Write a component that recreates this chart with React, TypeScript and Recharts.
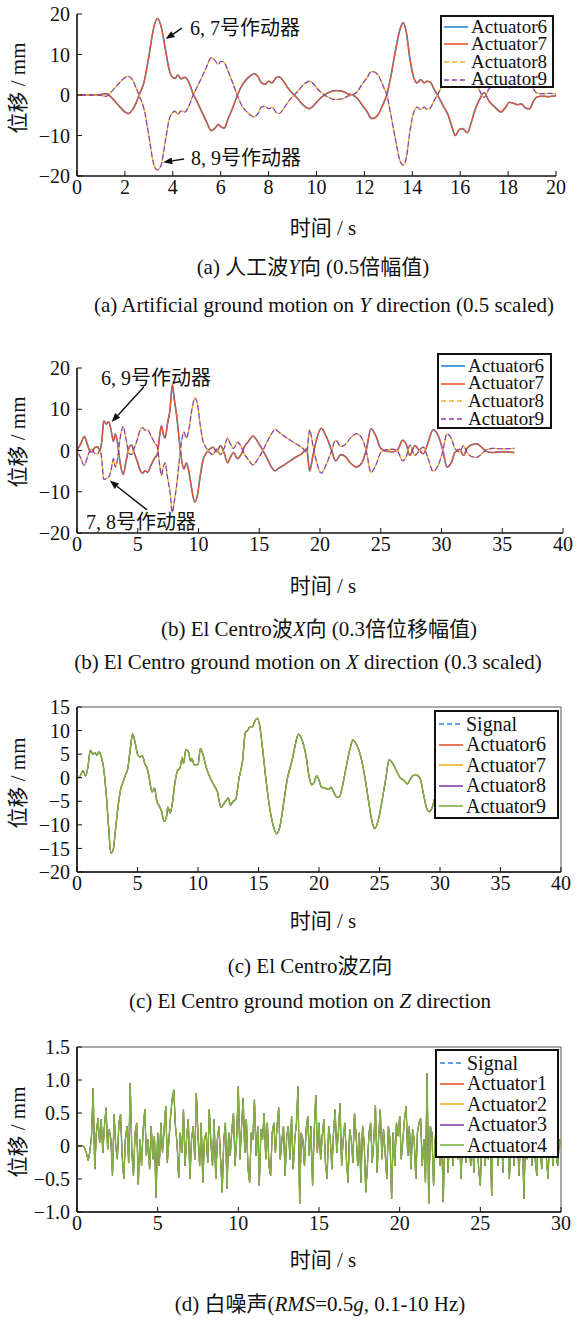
import React from 'react'
import { LineChart, Line, XAxis, YAxis, Legend, ReferenceLine, ReferenceArea } from 'recharts'

const FONT = "'Liberation Serif', 'Noto Sans CJK SC', serif"
const BLUE = '#2f86d6'
const RED = '#e4572e'
const ORANGE = '#eeb02a'
const PURPLE = '#8440b0'
const GREEN = '#7cb342'

// (a) artificial wave, Y direction
const aTime = [0, 0.5, 1.0, 1.2, 1.5, 1.8, 2.0, 2.15, 2.3, 2.45,
  2.6, 2.8, 3.0, 3.2, 3.35, 3.5, 3.7, 3.85, 4.0, 4.1,
  4.2, 4.35, 4.5, 4.65, 4.85, 5.0, 5.2, 5.4, 5.6, 5.75,
  5.9, 6.0, 6.15, 6.3, 6.5, 6.7, 6.9, 7.1, 7.25, 7.4,
  7.55, 7.7, 7.85, 8.0, 8.15, 8.3, 8.45, 8.6, 8.8, 9.0,
  9.2, 9.4, 9.55, 9.7, 9.85, 10.0, 10.2, 10.5, 10.8, 11.1,
  11.3, 11.5, 11.7, 11.9, 12.1, 12.3, 12.45, 12.6, 12.8, 12.95,
  13.1, 13.3, 13.5, 13.62, 13.75, 13.9, 14.05, 14.2, 14.35, 14.5,
  14.6, 14.75, 14.9, 15.1, 15.3, 15.5, 15.65, 15.8, 15.95, 16.1,
  16.3, 16.45, 16.6, 16.8, 17.0, 17.2, 17.45, 17.7, 17.9, 18.05,
  18.2, 18.4, 18.55, 18.75, 18.9, 19.05, 19.2, 19.4, 19.7, 20.0]
// actuators 6 & 7
const aUpper = [0, 0, 0.1, 0.35, -1.0, -3.0, -4.2, -4.6, -3.8, -2.2,
  0.1, 3.2, 9.5, 16.5, 18.9, 17.2, 11, 6.2, 4.3, 4.1,
  4.9, 4.0, 4.4, 3.4, 0.3, -1.5, -4.0, -6.5, -8.8, -8.3,
  -7.3, -7.8, -8.2, -6.0, -3.2, 0, 2.5, 4.0, 4.8, 5.3,
  4.6, 3.0, 2.6, 3.4, 3.0, 4.2, 4.5, 3.6, 1.8, 0.4,
  -0.8, -2.2, -3.0, -3.4, -2.8, -1.8, -0.6, 0.6, 1.1, 0.9,
  0.3, 0, -0.8, -2.4, -4.0, -5.8, -5.6, -4.6, -2.0, 0.3,
  4.5, 11, 16.5, 17.8, 15.5, 9.0, 4.5, 3.0, 3.8, 3.0,
  3.4, 3.2, 1.5, -0.5, -2.8, -5.0, -7.8, -10.0, -8.6, -8.3,
  -9.3, -7.0, -4.0, -1.2, 0.6, -1.5, -3.0, -4.2, -3.0, -1.8,
  -2.0, -2.4, -2.2, -3.3, -3.4, -1.6, -0.5, -0.3, -0.4, -0.2]
// actuators 8 & 9
const aLower = [0, 0, -0.1, -0.35, 1.2, 3.2, 4.3, 4.6, 3.9, 2.0,
  -0.2, -3.5, -10, -17, -18.5, -17.5, -11, -6.0, -4.3, -4.0,
  -4.8, -3.9, -4.2, -3.0, 0, 1.8, 4.2, 6.8, 9.2, 8.6,
  7.6, 8.3, 8.0, 6.0, 3.0, -0.2, -2.8, -4.2, -5.0, -5.4,
  -4.6, -3.0, -2.8, -3.4, -3.0, -4.2, -4.6, -3.6, -1.8, -0.4,
  0.8, 2.2, 3.0, 3.4, 2.9, 1.8, 0.6, -0.6, -1.1, -0.9,
  -0.3, 0, 0.8, 2.6, 4.2, 5.8, 5.6, 4.6, 2.0, -0.3,
  -4.8, -11, -16.5, -17.3, -15.5, -9.0, -4.5, -3.0, -3.6, -3.0,
  -3.5, -3.2, -1.5, 0.6, 2.8, 5.0, 7.8, 10, 8.6, 8.3,
  9.3, 7.0, 4.0, 1.2, -0.6, 1.5, 3.0, 4.2, 3.0, 1.8,
  2.0, 2.4, 2.2, 3.3, 3.4, 1.6, 0.5, 0.3, 0.4, 0.2]

// (b) El Centro, X direction
const bTime = [0, 0.3, 0.6, 0.8, 1.0, 1.2, 1.5, 1.7, 1.9, 2.05,
  2.2, 2.4, 2.6, 2.8, 3.0, 3.15, 3.3, 3.55, 3.8, 4.05,
  4.3, 4.5, 4.7, 5.0, 5.2, 5.4, 5.6, 5.8, 6.1, 6.4,
  6.6, 6.8, 6.95, 7.1, 7.25, 7.45, 7.65, 7.85, 8.0, 8.2,
  8.4, 8.6, 8.8, 9.0, 9.2, 9.45, 9.7, 9.9, 10.15, 10.4,
  10.6, 10.9, 11.2, 11.5, 11.8, 12.1, 12.4, 12.6, 12.9, 13.2,
  13.5, 13.8, 14.1, 14.5, 14.9, 15.3, 15.7, 16.0, 16.3, 16.6,
  17.0, 17.4, 17.8, 18.2, 18.6, 18.9, 19.15, 19.4, 19.7, 20.1,
  20.5, 20.9, 21.3, 21.7, 22.1, 22.5, 23.0, 23.4, 23.8, 24.2,
  24.6, 25.0, 25.5, 26.0, 26.4, 26.8, 27.1, 27.4, 27.8, 28.1,
  28.5, 28.9, 29.3, 29.7, 30.1, 30.45, 30.8, 31.1, 31.5, 31.8,
  32.1, 32.5, 32.9, 33.3, 33.7, 34.2, 35.0, 36.0]
// actuators 6 & 7
const bUpper = [0, 1.6, 3.4, 2.0, 0.2, -0.4, 0.8, 0.9, 0.0, 2.5,
  7.2, 6.4, 7.0, 5.0, 2.2, 4.0, 2.5, -3.0, -5.8, -2.5,
  0.8, 1.3, -0.5, -3.0, -4.8, -5.5, -4.9, -5.3, -3.5, -1.8,
  -1.0, 3.5, 6.0, 4.0, 3.0, 6.5, 9.8, 16.0, 12.5, 8.5,
  3.0, -2.0, -4.5, -3.0, -5.0, -9.5, -12.5, -11.0, -6.0, -2.0,
  -0.8, 0.3, 0.8, -0.3, 1.2, -0.5, -3.0, -1.8, -0.5, -2.0,
  -1.0, 1.0, 2.2, 3.5, 2.0, 0.0, -2.2, -4.0, -4.9, -4.3,
  -3.6, -2.8, -2.0, -1.3, -0.5, 0.5, -5.0, -1.5, 2.5, 5.4,
  3.5, 0.5, -2.5, -1.0, -1.5, -3.0, -4.0, -3.2, 0.0, 5.3,
  3.5, 0.5, -0.2, -0.3, 0.2, 2.5, 1.5, -1.2, 1.2, 0.3,
  -0.8, 2.0, 5.0, 3.8, 0.2, -4.0, -3.0, -0.5, 0.3, -1.2,
  0.5, 1.4, 1.6, 0.8, -0.2, -0.5, -0.3, -0.5]
// actuators 8 & 9
const bLower = [0, -1.8, -3.6, -2.2, -0.4, 0.4, -0.8, -0.8, 0.2, -2.5,
  -7.0, -6.8, -6.5, -4.8, -2.0, -4.0, -2.6, 3.0, 5.8, 2.5,
  -0.8, -1.0, 0.5, 3.0, 5.0, 5.5, 5.0, 5.0, 3.5, 1.8,
  1.0, -3.5, -6.0, -4.0, -3.0, -6.5, -10, -15.0, -12.5, -8.5,
  -3.0, 2.0, 4.5, 3.0, 5.0, 9.8, 12.7, 11.5, 6.0, 2.0,
  0.8, -0.5, -1.0, 0.3, -1.0, 0.5, 3.0, 1.8, 0.5, 2.0,
  1.0, -1.0, -2.2, -3.5, -2.0, 0, 2.4, 4.0, 5.1, 4.5,
  3.6, 2.8, 2.0, 1.3, 0.5, -0.5, 5.0, 1.5, -2.5, -5.5,
  -3.5, -0.5, 2.5, 1.0, 1.5, 3.0, 4.1, 3.2, 0, -5.3,
  -3.5, -0.5, 0.2, 0.3, -0.2, -2.5, -1.5, 1.3, -1.2, -0.3,
  0.8, -2.0, -5.0, -3.8, -0.2, 4.0, 3.0, 0.5, -0.3, 1.2,
  -0.5, -1.5, -1.7, -0.8, 0.2, 0.5, 0.4, 0.5]

// (c) El Centro, Z direction (signal and all actuators overlap)
const cTime = [0, 0.2, 0.5, 0.7, 0.9, 1.1, 1.3, 1.5, 1.65, 1.8,
  2.0, 2.2, 2.4, 2.6, 2.8, 3.0, 3.2, 3.4, 3.6, 3.8,
  4.0, 4.2, 4.4, 4.6, 4.8, 5.0, 5.2, 5.4, 5.6, 5.8,
  6.0, 6.2, 6.4, 6.6, 6.8, 7.0, 7.2, 7.4, 7.5, 7.7,
  7.9, 8.1, 8.3, 8.5, 8.7, 8.8, 9.0, 9.2, 9.4, 9.5,
  9.7, 10.0, 10.2, 10.4, 10.7, 11.0, 11.3, 11.6, 11.9, 12.2,
  12.5, 12.7, 12.9, 13.1, 13.4, 13.7, 13.9, 14.1, 14.3, 14.5,
  14.7, 14.9, 15.1, 15.3, 15.6, 15.9, 16.2, 16.5, 16.8, 17.1,
  17.4, 17.6, 17.8, 18.0, 18.3, 18.6, 18.9, 19.2, 19.4, 19.6,
  19.8, 20.0, 20.2, 20.5, 20.8, 21.0, 21.2, 21.5, 21.7, 22.0,
  22.3, 22.6, 22.8, 23.1, 23.4, 23.8, 24.1, 24.4, 24.6, 24.9,
  25.2, 25.5, 25.8, 26.1, 26.4, 26.7, 27.0, 27.3, 27.5, 27.8,
  28.1, 28.4, 28.6, 28.9, 29.1, 29.4, 29.6, 30.0]
const cDisp = [0, 0.1, 1.5, 0.4, 2.2, 5.8, 5.0, 5.3, 4.7, 5.5,
  4.5, 2.0, -3.0, -10.0, -16.0, -15.2, -10.5, -6.0, -2.5, -1.0,
  0.5, 2.0, 6.0, 9.3, 7.5, 5.0, 4.4, 4.7, 3.0, 2.0,
  -0.5, -3.0, -2.2, -5.0, -6.0, -7.2, -9.3, -8.2, -6.2, -7.5,
  -5.0, -1.0, 1.5, 2.0, 4.2, 3.0, 6.0, 5.5, 3.5, 4.0,
  2.7, 2.8, 6.2, 5.0, 2.0, 0.0, -1.5, -3.0, -6.3, -5.3,
  -4.3, -5.8, -5.0, -4.7, 0.0, 4.0, 9.5, 10.0, 10.8, 10.8,
  12.0, 12.6, 11.0, 7.0, 0.0, -6.0, -10.0, -11.9, -10.0, -5.0,
  0.0, 2.0, 4.0, 6.5, 9.2, 8.0, 5.0, 0.0, -1.5, -1.0,
  0.4, -0.5, -2.0, -2.2, -2.5, -2.0, -3.0, -4.2, -4.0, -1.0,
  3.0, 6.5, 8.0, 7.0, 5.0, 0.0, -5.0, -9.5, -10.8, -9.0,
  -5.0, -0.5, 3.8, 3.0, 1.5, 0.0, -0.5, -1.3, -0.5, 0.5,
  0.5, -0.5, -3.0, -6.5, -7.2, -6.0, -4.0, -1.0]

// (d) white noise, sampled every 0.1 s from 0 to 30 s (one row per second)
const dNoise = [
  0, 0, 0, 0, 0, -0.05, -0.12, -0.22, -0.08, 0.15,
  0.87, -0.35, 0.2, 0.42, 0.05, 0.4, -0.1, 0.3, 0.58, -0.05,
  0.25, 0.1, -0.45, 0.48, 0.0, -0.2, 0.35, 0.48, -0.15, -0.5,
  0.1, 0.3, -0.25, 0.95, -0.1, -0.45, 0.2, 0.35, -0.58, 0.1,
  -0.3, 0.25, 0.55, -0.15, 0.1, -0.35, 0.3, -0.2, 0.15, -0.78,
  0.2, -0.3, 0.35, -0.1, 0.25, 0.6, -0.25, 0.1, 0.45, 0.72,
  0.85, 0.3, 0.05, -0.48, 0.2, -0.1, 0.55, -0.3, 0.15, 0.4,
  -0.5, 0.1, 0.3, -0.2, 0.8, 0.15, -0.3, 0.35, -0.55, 0.1,
  0.2, -0.25, 0.55, 0.05, -0.3, 0.4, -0.5, 0.1, 0.3, -0.2,
  -0.7, 0.1, 0.35, -0.65, 0.2, -0.15, 0.25, 0.5, -0.3, 0.15,
  0.9, -0.2, 0.3, 0.72, -0.1, 0.4, -0.35, -0.55, 0.2, 0.1,
  0.7, -0.15, 0.3, -0.6, 0.25, 0.1, 0.5, -0.2, 0.35, -0.3,
  -0.45, 0.2, 0.35, -0.1, 0.3, 0.58, -0.2, 0.1, 0.3, -0.45,
  0.15, 0.3, -0.2, 0.45, -0.35, 0.1, 0.35, 0.9, -0.87, 0.2,
  0.1, -0.3, 0.25, 0.45, -0.15, 0.3, -0.6, 0.2, 0.77, -0.1,
  0.35, -0.2, 0.15, 0.4, -0.25, -0.5, 0.3, 0.1, -0.35, 0.2,
  0.55, -0.1, 0.2, 0.65, -0.3, 0.1, 0.35, -0.2, -0.55, 0.25,
  0.1, -0.25, 0.5, 0.15, -0.3, 0.2, -0.55, 0.3, 0.05, -0.7,
  -0.3, 0.2, 0.35, -0.25, 0.1, 0.62, -0.4, 0.15, 0.55, -0.2,
  0.25, -0.1, -0.5, 0.3, 0.1, -0.8, 0.2, -0.3, 0.35, 0.15,
  0.45, -0.2, 0.1, 0.4, 0.6, -0.15, 0.3, -0.35, 0.25, 0.1,
  -0.5, 0.2, 0.35, 0.42, -0.3, 0.1, -0.55, 1.1, -0.87, 0.3,
  0.2, -0.6, 0.1, 0.35, 0.5, -0.3, 0.2, -0.85, 0.15, 0.3,
  -0.4, 0.25, 0.1, -0.3, 0.55, 0.2, -0.2, 0.3, -0.5, 0.1,
  0.35, -0.25, 0.5, 0.1, -0.3, 0.2, -0.4, 0.25, 0.05, -0.35,
  -0.6, 0.2, 0.35, -0.3, 0.1, -0.2, 0.4, -0.75, 0.25, 0.1,
  0.5, -0.3, 0.15, 0.35, -0.4, 0.2, -0.15, 0.3, -0.5, 0.1,
  0.25, -0.3, 0.4, 0.1, -0.45, 0.2, 0.3, -0.8, 0.15, -0.2,
  0.35, 0.1, -0.3, 0.25, -0.2, -0.45, 0.3, 0.1, -0.35, 0.2,
  0.3, -0.2, -0.5, 0.25, 0.1, -0.3, 0.2, -0.15, -0.3, 0.1,
  0.0]

const aXTicks = [0, 2, 4, 6, 8, 10, 12, 14, 16, 18, 20]
const bXTicks = [0, 5, 10, 15, 20, 25, 30, 35, 40]
const dXTicks = [0, 5, 10, 15, 20, 25, 30]
const abYTicks = [-20, -10, 0, 10, 20]
const cYTicks = [-20, -15, -10, -5, 0, 5, 10, 15]
const dYTicks = [-1, -0.5, 0, 0.5, 1, 1.5]

type Series = { key: string; name: string; color: string; dash?: string; offset?: number; width?: number }

const actuators6to9: Series[] = [
  { key: 'act6', name: 'Actuator6', color: BLUE, width: 1.6 },
  { key: 'act7', name: 'Actuator7', color: RED },
  { key: 'act8', name: 'Actuator8', color: ORANGE, dash: '5 3' },
  { key: 'act9', name: 'Actuator9', color: PURPLE, dash: '5 3', offset: 4 },
]
const cSeries: Series[] = [
  { key: 'signal', name: 'Signal', color: BLUE, dash: '5 3', width: 1.1 },
  { key: 'act6', name: 'Actuator6', color: RED, width: 1.1 },
  { key: 'act7', name: 'Actuator7', color: ORANGE, width: 1.1 },
  { key: 'act8', name: 'Actuator8', color: PURPLE, width: 1.1 },
  { key: 'act9', name: 'Actuator9', color: GREEN, width: 1.5 },
]
const dSeries: Series[] = [
  { key: 'signal', name: 'Signal', color: BLUE, dash: '5 3', width: 1.0 },
  { key: 'act1', name: 'Actuator1', color: RED, width: 1.0 },
  { key: 'act2', name: 'Actuator2', color: ORANGE, width: 1.0 },
  { key: 'act3', name: 'Actuator3', color: PURPLE, width: 1.0 },
  { key: 'act4', name: 'Actuator4', color: GREEN, width: 1.4 },
]

const aRows = aTime.map((t, i) => ({ t, act6: aUpper[i], act7: aUpper[i], act8: aLower[i], act9: aLower[i] }))
const bRows = bTime.map((t, i) => ({ t, act6: bUpper[i], act7: bUpper[i], act8: bLower[i], act9: bLower[i] }))
const cRows = cTime.map((t, i) => ({ t, signal: cDisp[i], act6: cDisp[i], act7: cDisp[i], act8: cDisp[i], act9: cDisp[i] }))
const dRows = dNoise.map((v, i) => ({ t: i / 10, signal: v, act1: v, act2: v, act3: v, act4: v }))

const minus = (s: string) => s.replace('-', '\u2212')
const fmtInt = (v: number) => minus(String(v))
const fmtOne = (v: number) => (v === 0 ? '0' : minus(v.toFixed(1)))

function Arrow(p: any) {
  const { x1, y1, x2, y2 } = p
  if ([x1, y1, x2, y2].some(v => typeof v !== 'number')) return null
  const ang = Math.atan2(y2 - y1, x2 - x1)
  const L = 9, W = 3.5
  const bx = x2 - L * Math.cos(ang), by = y2 - L * Math.sin(ang)
  const pts = `${x2},${y2} ${bx - W * Math.sin(ang)},${by + W * Math.cos(ang)} ${bx + W * Math.sin(ang)},${by - W * Math.cos(ang)}`
  return (
    <g>
      <line x1={x1} y1={y1} x2={bx} y2={by} stroke="#111" strokeWidth={1.4} />
      <polygon points={pts} fill="#111" />
    </g>
  )
}

type LegendCfg = { left: number; top: number; w: number; h: number; rowH: number; padTop: number; padLeft: number; size: number }

function LegendBox({ items, w, h, rowH, padTop, padLeft, size }: LegendCfg & { items: Series[] }) {
  return (
    <div style={{ width: w, height: h, boxSizing: 'border-box', border: '2px solid #111', background: '#fff', paddingTop: padTop, fontFamily: FONT, fontSize: size, color: '#111' }}>
      {items.map(s => (
        <div key={s.key} style={{ display: 'flex', alignItems: 'center', height: rowH, whiteSpace: 'nowrap' }}>
          <svg width={24} height={6} style={{ marginLeft: padLeft, flex: 'none' }}>
            <line x1={0} x2={24} y1={3} y2={3} stroke={s.color} strokeWidth={1.6} strokeDasharray={s.dash} />
          </svg>
          <span style={{ marginLeft: 3, lineHeight: `${rowH - 1}px` }}>{s.name}</span>
        </div>
      ))}
    </div>
  )
}

type PanelProps = {
  top: number
  height: number
  mTop: number
  mRight: number
  rows: any[]
  series: Series[]
  xDomain: [number, number]
  xTicks: number[]
  yDomain: [number, number]
  yTicks: number[]
  fmt: (v: number) => string
  curve: 'monotone' | 'linear'
  box?: boolean
  arrows?: { x: number; y: number }[][]
  legend: LegendCfg
}

function Panel(p: PanelProps) {
  const axisLine = { stroke: '#111', strokeWidth: 1.6 }
  const tick = { fill: '#111', fontSize: 20, fontFamily: FONT }
  return (
    <div style={{ position: 'absolute', left: 0, top: p.top }}>
      <LineChart width={577} height={p.height} data={p.rows} margin={{ top: p.mTop, right: p.mRight, bottom: 0, left: 0 }}>
        <XAxis dataKey="t" type="number" domain={p.xDomain} ticks={p.xTicks} interval={0} allowDataOverflow height={30}
          tickSize={-5} tickMargin={9} axisLine={axisLine} tickLine={{ stroke: '#111' }} tick={tick} />
        <YAxis type="number" domain={p.yDomain} ticks={p.yTicks} interval={0} allowDataOverflow width={77}
          tickSize={-5} tickMargin={12} tickFormatter={p.fmt} axisLine={axisLine} tickLine={{ stroke: '#111' }} tick={tick} />
        {p.box && (
          <ReferenceArea x1={p.xDomain[0]} x2={p.xDomain[1]} y1={p.yDomain[0]} y2={p.yDomain[1]}
            fill="none" fillOpacity={0} stroke="#555" strokeWidth={1} ifOverflow="visible" />
        )}
        {p.series.map(s => (
          <Line key={s.key} dataKey={s.key} name={s.name} type={p.curve} stroke={s.color} strokeWidth={s.width ?? 1.3}
            strokeDasharray={s.dash} strokeDashoffset={s.offset} dot={false} activeDot={false} isAnimationActive={false} />
        ))}
        {(p.arrows || []).map((seg, i) => (
          <ReferenceLine key={i} segment={seg} shape={Arrow} ifOverflow="visible" />
        ))}
        <Legend layout="vertical" align="center" verticalAlign="middle"
          wrapperStyle={{ left: p.legend.left, top: p.legend.top, width: p.legend.w, height: p.legend.h }}
          content={() => <LegendBox items={p.series} {...p.legend} />} />
      </LineChart>
    </div>
  )
}

function Txt({ x, y, size = 21, anchor = 'center', children }: { x: number; y: number; size?: number; anchor?: 'center' | 'left'; children: React.ReactNode }) {
  return (
    <div style={{
      position: 'absolute', left: x, top: y, whiteSpace: 'nowrap', fontSize: size, lineHeight: 1, color: '#111',
      transform: anchor === 'center' ? 'translate(-50%, -50%)' : 'translate(0, -50%)',
    }}>{children}</div>
  )
}

function YLabel({ y }: { y: number }) {
  return (
    <div style={{ position: 'absolute', left: 18, top: y, whiteSpace: 'nowrap', fontSize: 21, lineHeight: 1, color: '#111', transform: 'translate(-50%, -50%) rotate(-90deg)' }}>
      位移 / mm
    </div>
  )
}

export default function App() {
  return (
    <div style={{ position: 'absolute', left: 0, top: 0, width: 577, height: 1320, background: '#fff', fontFamily: FONT, overflow: 'hidden' }}>
      <Panel top={0} height={206} mTop={14} mRight={21} rows={aRows} series={actuators6to9}
        xDomain={[0, 20]} xTicks={aXTicks} yDomain={[-20, 20]} yTicks={abYTicks} fmt={fmtInt} curve="monotone"
        arrows={[[{ x: 4.38, y: 16.5 }, { x: 3.7, y: 13.8 }], [{ x: 4.47, y: -15.8 }, { x: 3.6, y: -16.6 }]]}
        legend={{ left: 440, top: 15, w: 114, h: 73, rowH: 17.6, padTop: 1, padLeft: 2, size: 19 }} />
      <Txt x={190} y={28} size={20} anchor="left">6, 7号作动器</Txt>
      <Txt x={191} y={158} size={20} anchor="left">8, 9号作动器</Txt>
      <YLabel y={88} />
      <Txt x={323} y={228}>时间 / s</Txt>
      <Txt x={313} y={267}>(a) 人工波<i>Y</i>向 (0.5倍幅值)</Txt>
      <Txt x={324} y={305}>(a) Artificial ground motion on <i>Y</i> direction (0.5 scaled)</Txt>

      <Panel top={340} height={223} mTop={28} mRight={14} rows={bRows} series={actuators6to9}
        xDomain={[0, 40]} xTicks={bXTicks} yDomain={[-20, 20]} yTicks={abYTicks} fmt={fmtInt} curve="monotone"
        arrows={[[{ x: 5.5, y: 15.4 }, { x: 2.85, y: 6.9 }], [{ x: 5.76, y: -14.4 }, { x: 2.7, y: -7.3 }]]}
        legend={{ left: 437, top: 13, w: 115, h: 76, rowH: 17.8, padTop: 2, padLeft: 2, size: 19 }} />
      <Txt x={101} y={378} size={20} anchor="left">6, 9号作动器</Txt>
      <Txt x={86} y={522} size={20} anchor="left">7, 8号作动器</Txt>
      <YLabel y={442} />
      <Txt x={323} y={586}>时间 / s</Txt>
      <Txt x={319} y={629}>(b) El Centro波<i>X</i>向 (0.3倍位移幅值)</Txt>
      <Txt x={308} y={662}>(b) El Centro ground motion on <i>X</i> direction (0.3 scaled)</Txt>

      <Panel top={690} height={212} mTop={17} mRight={16} rows={cRows} series={cSeries}
        xDomain={[0, 40]} xTicks={bXTicks} yDomain={[-20, 15]} yTicks={cYTicks} fmt={fmtInt} curve="monotone" box
        legend={{ left: 434, top: 20, w: 125, h: 109, rowH: 20.5, padTop: 2, padLeft: 3, size: 20 }} />
      <YLabel y={783} />
      <Txt x={323} y={921}>时间 / s</Txt>
      <Txt x={310} y={966}>(c) El Centro波Z向</Txt>
      <Txt x={310} y={1001}>(c) El Centro ground motion on <i>Z</i> direction</Txt>

      <Panel top={1030} height={212} mTop={17} mRight={16} rows={dRows} series={dSeries}
        xDomain={[0, 30]} xTicks={dXTicks} yDomain={[-1, 1.5]} yTicks={dYTicks} fmt={fmtOne} curve="linear" box
        legend={{ left: 435, top: 19, w: 124, h: 109, rowH: 20.5, padTop: 2, padLeft: 3, size: 20 }} />
      <YLabel y={1132} />
      <Txt x={323} y={1260}>时间 / s</Txt>
      <Txt x={320} y={1304}>(d) 白噪声(<i>RMS</i>=0.5<i>g</i>, 0.1-10 Hz)</Txt>
    </div>
  )
}
